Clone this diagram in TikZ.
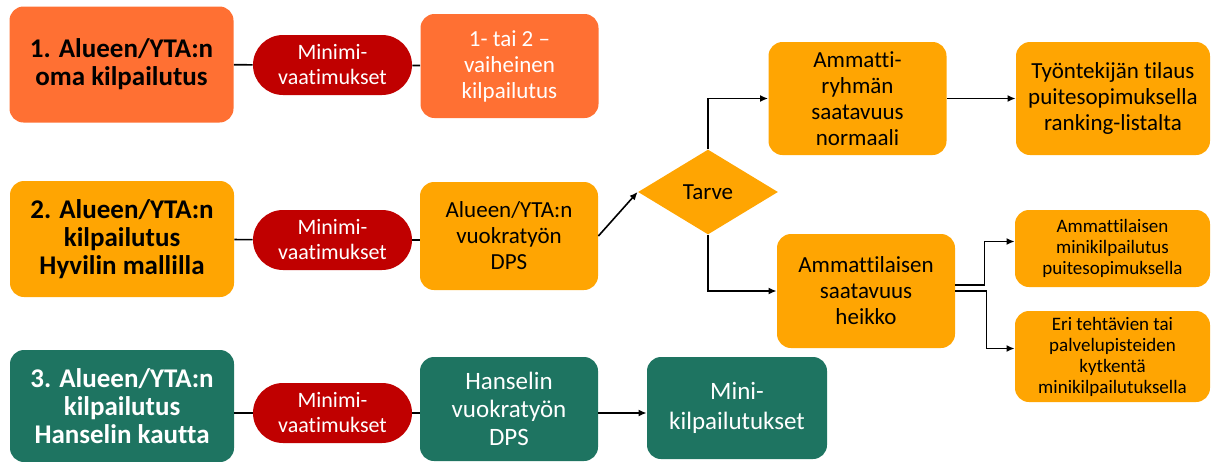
\documentclass[tikz,border=0pt]{standalone}
\usepackage{fontspec}
\setmainfont{Carlito}[Ligatures=NoCommon]
\usetikzlibrary{shapes.geometric,arrows.meta}

\definecolor{orangeA}{HTML}{FF7033}
\definecolor{amberA}{HTML}{FFA502}
\definecolor{redA}{HTML}{C00000}
\definecolor{greenA}{HTML}{1E7461}

\begin{document}
\begin{tikzpicture}[x=0.5pt,y=-0.5pt,
  box/.style={rounded corners=7pt,align=center,inner sep=2pt},
  title/.style={box,font=\fontsize{13.5}{14}\selectfont\bfseries,minimum width=112pt,minimum height=58pt},
  minreq/.style={box,fill=redA,text=white,rounded corners=15pt,font=\fontsize{11}{12.5}\selectfont,minimum width=79.5pt,minimum height=30pt},
  mid/.style={box,font=\fontsize{11.5}{13}\selectfont,minimum width=89pt,minimum height=52pt},
  small/.style={box,fill=amberA,font=\fontsize{9.5}{10.5}\selectfont,minimum width=97.5pt},
  link/.style={line width=0.8pt},
  arr/.style={line width=0.8pt,-{Latex[length=4pt,width=3.5pt]}}]
\useasboundingbox (0,0) rectangle (1215,461);
% Row 1: own tendering
\node[title,fill=orangeA] (t1) at (121.5,64.5) {1. Alueen/YTA:n\\oma kilpailutus};
\node[minreq] (m1) at (332.5,65) {Minimi-\\vaatimukset};
\node[mid,fill=orangeA,text=white] (v1) at (509.5,66) {1- tai 2 –\\vaiheinen\\kilpailutus};
\draw[link] (t1) -- (m1);
\draw[link] (m1) -- (v1);
% Row 2: Hyvil model
\node[title,fill=amberA,minimum height=58pt] (t2) at (122,239) {2. Alueen/YTA:n\\kilpailutus\\Hyvilin mallilla};
\node[minreq] (m2) at (332.5,240) {Minimi-\\vaatimukset};
\node[mid,fill=amberA,minimum height=54pt] (dps) at (509,236) {Alueen/YTA:n\\vuokratyön\\DPS};
\draw[link] (t2) -- (m2);
\draw[link] (m2) -- (dps.west |- m2);
% Need and its two branches
\node[diamond,fill=amberA,minimum width=70pt,minimum height=42.5pt,inner sep=0pt,
  font=\fontsize{11.5}{13}\selectfont] (need) at (708,192) {Tarve};
\node[mid,fill=amberA,minimum height=56.5pt] (norm) at (857.5,98.5) {Ammatti-\\ryhmän\\saatavuus\\normaali};
\node[mid,fill=amberA,minimum width=97pt,minimum height=56.5pt] (rank) at (1113,98.5) {Työntekijän tilaus\\puitesopimuksella\\ranking-listalta};
\node[mid,fill=amberA,minimum height=57pt] (weak) at (866,291) {Ammattilaisen\\saatavuus\\heikko};
\node[small,minimum height=38.5pt] (mkp) at (1112.5,248.5) {Ammattilaisen\\minikilpailutus\\puitesopimuksella};
\node[small,minimum height=45.5pt] (eri) at (1112.5,356.5) {Eri tehtävien tai\\palvelupisteiden\\kytkentä\\minikilpailutuksella};
\draw[arr] (dps.east) -- (need.west);
\draw[arr] (need.north) |- (norm.west);
\draw[arr] (need.south) |- (weak.west);
\draw[arr] (norm) -- (rank);
\draw[arr] ([yshift=3pt]weak.east) -- ++(14.5pt,0) |- ([yshift=3.5pt]mkp.west);
\draw[arr] ([yshift=0pt]weak.east) -- ++(15.5pt,0) |- ([yshift=4pt]eri.west);
% Row 3: via Hansel
\node[title,fill=greenA,text=white,minimum height=56pt] (t3) at (122,406) {3. Alueen/YTA:n\\kilpailutus\\Hanselin kautta};
\node[minreq] (m3) at (332.5,413) {Minimi-\\vaatimukset};
\node[mid,fill=greenA,text=white,font=\fontsize{12.5}{14}\selectfont] (hans) at (509,409) {Hanselin\\vuokratyön\\DPS};
\node[mid,fill=greenA,text=white,minimum width=90pt,minimum height=51pt,font=\fontsize{12.5}{15}\selectfont] (mini) at (737,408) {Mini-\\kilpailutukset};
\draw[link] (t3.east |- m3) -- (m3);
\draw[link] (m3) -- (hans.west |- m3);
\draw[arr] (hans.east |- m3) -- (mini.west |- m3);
\end{tikzpicture}
\end{document}
